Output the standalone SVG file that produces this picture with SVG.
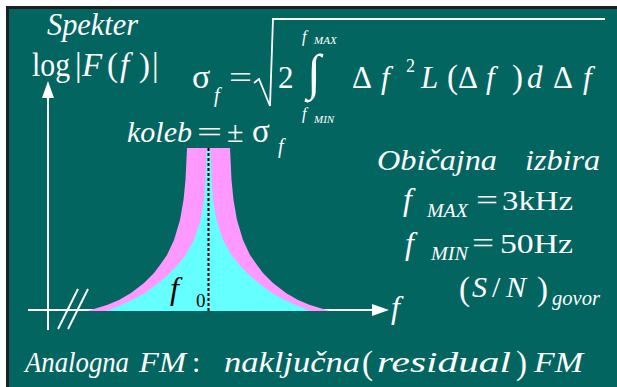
<svg xmlns="http://www.w3.org/2000/svg" width="617" height="387" viewBox="0 0 617 387" font-family="Liberation Serif, Tinos, Times New Roman, serif">
<defs>
<polygon id="ahead" points="0,0 -17,-6 -17,6" fill="#fff"/>
</defs>
<rect width="617" height="387" fill="#fff"/>
<rect x="7.5" y="7.5" width="615" height="385" fill="#036560" stroke="#1e1e1e" stroke-width="3"/>
<g id="axes" stroke="#fff" stroke-width="2" fill="none">
<line x1="48" y1="330" x2="48" y2="95"/>
<line x1="28" y1="310" x2="374" y2="310"/>
<line x1="78" y1="289" x2="58" y2="329"/>
<line x1="88" y1="289" x2="68" y2="329"/>
</g>
<use href="#ahead" transform="translate(48,81) rotate(-90)"/>
<use href="#ahead" transform="translate(389,310)"/>
<g id="spectrum">
<polygon fill="#ff99ff" points="187,148 185.5,180 183.5,200 180,220 174,240 167,255 160,265 154,273 144,283 131,293 119,300 107,305 87,311 330,311 310,305 298,300 286,293 273,283 263,273 257,265 250,255 243,240 237,220 233.5,200 231.5,180 230,148"/>
<polygon fill="#66ffff" points="206.5,150 205.5,180 204,200 200.5,220 194,240 185.5,255 177.5,265 170,273 158.5,283 145,293 132,300 121,305 107,311 310,311 296,305 285,300 272,293 258.5,283 247,273 239.5,265 231.5,255 223,240 216.5,220 213,200 211.5,180 210.5,150"/>
<line x1="208.5" y1="148" x2="208.5" y2="311" stroke="#000" stroke-width="2" stroke-dasharray="3,2"/>
<text font-family="Liberation Serif, serif" font-style="italic" fill="#000" x="170" y="299" font-size="32">f</text>
<text font-family="Liberation Serif, serif" fill="#000" x="196" y="307" font-size="19">0</text>
</g>
<g id="ylabel" fill="#fff">
<text font-family="Liberation Serif, serif" font-style="italic" x="47" y="35" font-size="31" textLength="91" lengthAdjust="spacingAndGlyphs">Spekter</text>
<text font-family="Liberation Serif, serif" x="32" y="76" font-size="33" textLength="38" lengthAdjust="spacingAndGlyphs">log</text>
<text font-family="Liberation Serif, serif" x="75" y="76" font-size="33">|</text>
<text font-family="Liberation Serif, serif" font-style="italic" x="82" y="76" font-size="33">F</text>
<text font-family="Liberation Serif, serif" x="107" y="76" font-size="33">(</text>
<text font-family="Liberation Serif, serif" font-style="italic" x="120" y="76" font-size="33">f</text>
<text font-family="Liberation Serif, serif" x="139" y="76" font-size="33">)</text>
<text font-family="Liberation Serif, serif" x="152" y="76" font-size="33">|</text>
</g>
<g id="formula" fill="#fff">
<text font-family="Liberation Serif, serif" x="192" y="88" font-size="34">&#963;</text>
<text font-family="Liberation Serif, serif" font-style="italic" x="214" y="102" font-size="20">f</text>
<text font-family="Liberation Serif, serif" x="229" y="88" font-size="31" textLength="23" lengthAdjust="spacingAndGlyphs">=</text>
<path d="M254,83 L259,79 L270,106 L273,19 L605,19" stroke="#fff" stroke-width="1.8" fill="none"/>
<text font-family="Liberation Serif, serif" x="278" y="88" font-size="31">2</text>
<text font-family="Liberation Serif, serif" x="307" y="89" font-size="50">&#8747;</text>
<text font-family="Liberation Serif, serif" font-style="italic" x="302" y="42" font-size="16">f</text>
<text font-family="Liberation Serif, serif" font-style="italic" x="314" y="44" font-size="11">MAX</text>
<text font-family="Liberation Serif, serif" font-style="italic" x="302" y="119" font-size="16">f</text>
<text font-family="Liberation Serif, serif" font-style="italic" x="314" y="123" font-size="11">MIN</text>
<text font-family="Liberation Serif, serif" x="352" y="88" font-size="31">&#916;</text>
<text font-family="Liberation Serif, serif" font-style="italic" x="381" y="88" font-size="31">f</text>
<text font-family="Liberation Serif, serif" x="406" y="72" font-size="18">2</text>
<text font-family="Liberation Serif, serif" font-style="italic" x="421" y="88" font-size="31">L</text>
<text font-family="Liberation Serif, serif" x="447" y="88" font-size="33">(</text>
<text font-family="Liberation Serif, serif" x="458" y="88" font-size="31">&#916;</text>
<text font-family="Liberation Serif, serif" font-style="italic" x="486" y="88" font-size="31">f</text>
<text font-family="Liberation Serif, serif" x="512" y="88" font-size="33">)</text>
<text font-family="Liberation Serif, serif" font-style="italic" x="527" y="88" font-size="31">d</text>
<text font-family="Liberation Serif, serif" x="553" y="88" font-size="31">&#916;</text>
<text font-family="Liberation Serif, serif" font-style="italic" x="583" y="88" font-size="31">f</text>
</g>
<g id="koleb" fill="#fff">
<text font-family="Liberation Serif, serif" font-style="italic" x="127" y="142" font-size="30" textLength="65" lengthAdjust="spacingAndGlyphs">koleb</text>
<text font-family="Liberation Serif, serif" x="197" y="142" font-size="30" textLength="25" lengthAdjust="spacingAndGlyphs">=</text>
<text font-family="Liberation Serif, serif" x="227" y="142" font-size="30">&#177;</text>
<text font-family="Liberation Serif, serif" x="252" y="142" font-size="33">&#963;</text>
<text font-family="Liberation Serif, serif" font-style="italic" x="278" y="153" font-size="20">f</text>
</g>
<g id="params" fill="#fff">
<text font-family="Liberation Serif, serif" font-style="italic" x="377" y="170" font-size="30" textLength="120" lengthAdjust="spacingAndGlyphs">Obi&#269;ajna</text>
<text font-family="Liberation Serif, serif" font-style="italic" x="525" y="170" font-size="30" textLength="75" lengthAdjust="spacingAndGlyphs">izbira</text>
<text font-family="Liberation Serif, serif" font-style="italic" x="403" y="210" font-size="32">f</text>
<text font-family="Liberation Serif, serif" font-style="italic" x="427" y="217" font-size="18" textLength="41" lengthAdjust="spacingAndGlyphs">MAX</text>
<text font-family="Liberation Serif, serif" x="476" y="210" font-size="30" textLength="22" lengthAdjust="spacingAndGlyphs">=</text>
<text font-family="Liberation Serif, serif" x="502" y="210" font-size="28" textLength="71" lengthAdjust="spacingAndGlyphs">3kHz</text>
<text font-family="Liberation Serif, serif" font-style="italic" x="405" y="254" font-size="32">f</text>
<text font-family="Liberation Serif, serif" font-style="italic" x="431" y="260" font-size="18" textLength="37" lengthAdjust="spacingAndGlyphs">MIN</text>
<text font-family="Liberation Serif, serif" x="472" y="253" font-size="30" textLength="22" lengthAdjust="spacingAndGlyphs">=</text>
<text font-family="Liberation Serif, serif" x="500" y="253" font-size="28" textLength="73" lengthAdjust="spacingAndGlyphs">50Hz</text>
<text font-family="Liberation Serif, serif" x="459" y="300" font-size="33">(</text>
<text font-family="Liberation Serif, serif" font-style="italic" x="472" y="297" font-size="30">S</text>
<text font-family="Liberation Serif, serif" x="492" y="297" font-size="30">/</text>
<text font-family="Liberation Serif, serif" font-style="italic" x="506" y="297" font-size="30">N</text>
<text font-family="Liberation Serif, serif" x="537" y="300" font-size="33">)</text>
<text font-family="Liberation Serif, serif" font-style="italic" x="552" y="305" font-size="20" textLength="48" lengthAdjust="spacingAndGlyphs">govor</text>
<text font-family="Liberation Serif, serif" font-style="italic" x="391" y="318" font-size="32">f</text>
</g>
<g id="caption" fill="#fff">
<text font-family="Liberation Serif, serif" font-style="italic" x="25" y="372" font-size="30" textLength="104" lengthAdjust="spacingAndGlyphs">Analogna</text>
<text font-family="Liberation Serif, serif" font-style="italic" x="139" y="372" font-size="30" textLength="47" lengthAdjust="spacingAndGlyphs">FM</text>
<text font-family="Liberation Serif, serif" x="192" y="372" font-size="30">:</text>
<text font-family="Liberation Serif, serif" font-style="italic" x="224" y="372" font-size="30" textLength="136" lengthAdjust="spacingAndGlyphs">naklju&#269;na</text>
<text font-family="Liberation Serif, serif" x="362" y="374" font-size="33">(</text>
<text font-family="Liberation Serif, serif" font-style="italic" x="377" y="372" font-size="30" textLength="134" lengthAdjust="spacingAndGlyphs">residual</text>
<text font-family="Liberation Serif, serif" x="516" y="374" font-size="33">)</text>
<text font-family="Liberation Serif, serif" font-style="italic" x="534" y="372" font-size="30" textLength="49" lengthAdjust="spacingAndGlyphs">FM</text>
</g>
</svg>
